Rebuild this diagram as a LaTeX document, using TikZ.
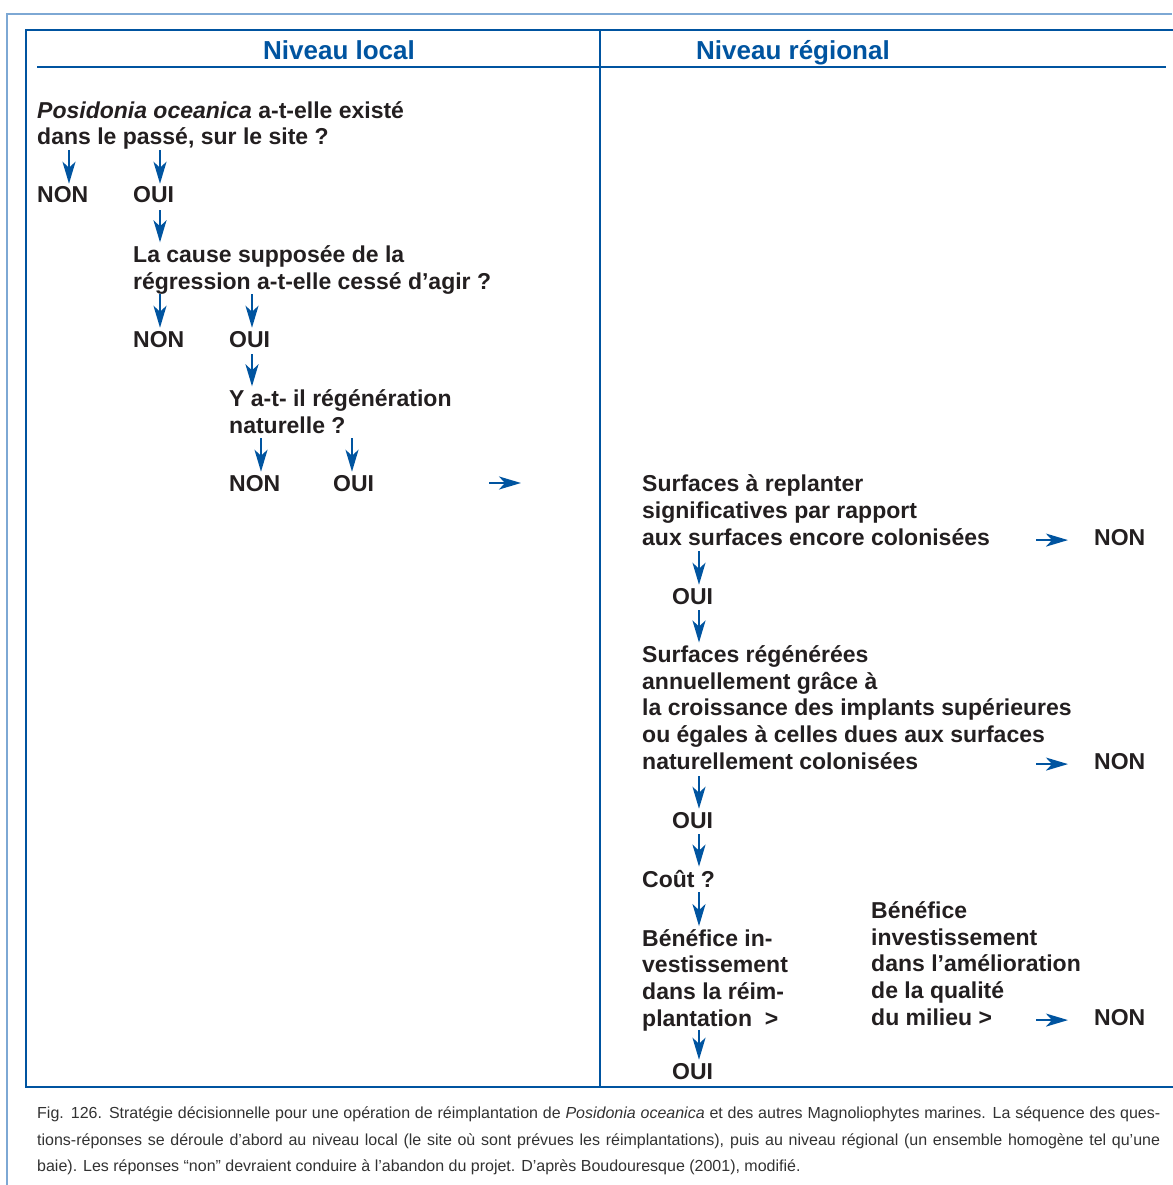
\documentclass[tikz,border=0pt]{standalone}
\usepackage{fontspec}
\setmainfont{Liberation Sans}
\usetikzlibrary{arrows.meta,calc}
\definecolor{hblue}{RGB}{0,84,160}
\definecolor{lblue}{RGB}{125,168,212}
\definecolor{ink}{RGB}{35,31,32}
\definecolor{capgray}{RGB}{50,50,50}
\begin{document}
\begin{tikzpicture}[x=1pt,y=-1pt,
 txt/.style={anchor=base west, inner sep=0pt, align=left, text=ink, font=\fontsize{23}{26.6}\selectfont\bfseries},
 hdr/.style={anchor=base, inner sep=0pt, text=hblue, font=\fontsize{26}{30}\selectfont\bfseries},
 arr/.style={draw=hblue, line width=2.2pt, -{Stealth[length=22pt,width=13pt,inset=6pt]}},
 captxt/.style={anchor=base west, inner sep=0pt, text=capgray, font=\fontsize{16}{19}\selectfont}]
\useasboundingbox (0,0) rectangle (1172,1185);
% frames
\draw[lblue, line width=2pt] (7,1185) -- (7,14) -- (1172,14);
\draw[hblue, line width=2.6pt] (1176,30) -- (26,30) -- (26,1087) -- (1176,1087);
\draw[hblue, line width=2.6pt] (600,30) -- (600,1087);
\draw[hblue, line width=2pt] (37,67) -- (600,67);
\draw[hblue, line width=2pt] (600,67) -- (1166,67);
% headers
\node[hdr] (hl) at (339,60) {Niveau local};
\node[hdr] (hr) at (793,60) {Niveau régional};
% local level
\node[txt] (q1) at (37,145) {\textit{Posidonia oceanica} a-t-elle existé\\dans le passé, sur le site ?};
\node[txt] (non1) at (37,203) {NON};
\node[txt] (oui1) at (133,203) {OUI};
\coordinate (a1) at (69,150);
\coordinate (a2) at (160,150);
\draw[arr, shorten >=3pt] (a1) -- (a1 |- non1.north);
\draw[arr, shorten >=3pt] (a2) -- (a2 |- oui1.north);
\node[txt] (q2) at (133,289) {La cause supposée de la\\régression a-t-elle cessé d’agir ?};
\coordinate (a3) at (160,210);
\draw[arr, shorten >=3pt] (a3) -- (a3 |- q2.north);
\node[txt] (non2) at (133,347) {NON};
\node[txt] (oui2) at (229,347) {OUI};
\coordinate (a4) at (160,294);
\coordinate (a5) at (252,294);
\draw[arr, shorten >=3pt] (a4) -- (a4 |- non2.north);
\draw[arr, shorten >=3pt] (a5) -- (a5 |- oui2.north);
\node[txt] (q3) at (229,433) {Y a-t- il régénération\\naturelle ?};
\coordinate (a6) at (252,354);
\draw[arr, shorten >=3pt] (a6) -- (a6 |- q3.north);
\node[txt] (non3) at (229,491) {NON};
\node[txt] (oui3) at (333,491) {OUI};
\coordinate (a7) at (261,438);
\coordinate (a8) at (352,438);
\draw[arr, shorten >=3pt] (a7) -- (a7 |- non3.north);
\draw[arr, shorten >=3pt] (a8) -- (a8 |- oui3.north);
\coordinate (h0) at (489,483);
\coordinate (h0e) at (521,483);
\draw[arr] (h0) -- (h0e);
% regional level
\node[txt] (r1) at (642,545) {Surfaces à replanter\\significatives par rapport\\aux surfaces encore colonisées};
\node[txt] (nonr1) at (1094,545) {NON};
\draw[arr] ($(nonr1.west)+(-58,3)$) -- ($(nonr1.west)+(-26,3)$);
\node[txt] (ouir1) at (672,604) {OUI};
\coordinate (b1) at (699,551);
\draw[arr, shorten >=3pt] (b1) -- (b1 |- ouir1.north);
\node[txt] (r2) at (642,769) {Surfaces régénérées\\annuellement grâce à\\la croissance des implants supérieures\\ou égales à celles dues aux surfaces\\naturellement colonisées};
\coordinate (b2) at (699,610);
\draw[arr, shorten >=3pt] (b2) -- (b2 |- r2.north);
\node[txt] (nonr2) at (1094,769) {NON};
\draw[arr] ($(nonr2.west)+(-58,3)$) -- ($(nonr2.west)+(-26,3)$);
\node[txt] (ouir2) at (672,828) {OUI};
\coordinate (b3) at (699,776);
\draw[arr, shorten >=3pt] (b3) -- (b3 |- ouir2.north);
\node[txt] (cout) at (642,887) {Coût ?};
\coordinate (b4) at (699,834);
\draw[arr, shorten >=3pt] (b4) -- (b4 |- cout.north);
\node[txt] (r3) at (642,1026) {Bénéfice in-\\vestissement\\dans la réim-\\plantation\ \ >};
\coordinate (b5) at (699,892);
\draw[arr, shorten >=3pt] (b5) -- (b5 |- r3.north);
\node[txt] (r4) at (871,1025) {Bénéfice\\investissement\\dans l’amélioration\\de la qualité\\du milieu >};
\node[txt] (nonr3) at (1094,1025) {NON};
\draw[arr] ($(nonr3.west)+(-58,3)$) -- ($(nonr3.west)+(-26,3)$);
\node[txt] (ouir3) at (672,1079) {OUI};
\coordinate (b6) at (699,1030);
\draw[arr, shorten >=3pt] (b6) -- (b6 |- ouir3.north);
% caption
\node[captxt] (c1) at (37,1118) {\makebox[1123pt][s]{Fig. 126. Stratégie décisionnelle pour une opération de réimplantation de \textit{Posidonia oceanica} et des autres Magnoliophytes marines. La séquence des ques-}};
\node[captxt] (c2) at (37,1145) {\makebox[1123pt][s]{tions-réponses se déroule d’abord au niveau local (le site où sont prévues les réimplantations), puis au niveau régional (un ensemble homogène tel qu’une}};
\node[captxt] (c3) at (37,1171) {baie). Les réponses “non” devraient conduire à l’abandon du projet. D’après Boudouresque (2001), modifié.};
\end{tikzpicture}
\end{document}
